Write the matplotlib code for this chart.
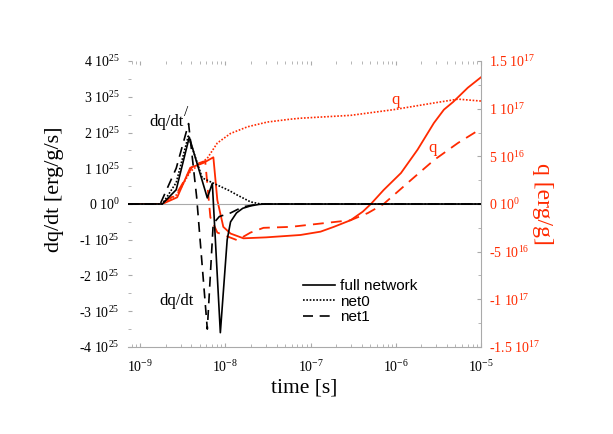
import matplotlib
matplotlib.use("Agg")
import matplotlib.pyplot as plt
from matplotlib.ticker import FixedLocator, FixedFormatter, NullFormatter

plt.rcParams['font.family'] = ['Liberation Serif', 'DejaVu Serif']
plt.rcParams['mathtext.fontset'] = 'custom'
plt.rcParams['mathtext.rm'] = 'Liberation Serif'
plt.rcParams['mathtext.it'] = 'Liberation Serif:italic'

RED = '#ff2a00'
GRID = '#aaaaaa'

# ---- data: dq/dt in units of 1e25 erg/g/s ----
t_full_dq = [7.2e-10, 1.82e-9, 2.65e-9, 3.77e-9, 6.14e-9, 7.03e-9, 8.73e-9, 1.05e-8, 1.15e-8,
             1.35e-8, 1.6e-8, 2.0e-8, 2.5e-8, 3.0e-8, 1e-5]
dq_full = [0, 0, 0.4, 1.87, 0.17, 0.58, -3.6, -1.0, -0.5, -0.25, -0.12, -0.05, -0.01, 0, 0]

t_net0_dq = [7.2e-10, 1.82e-9, 2.65e-9, 3.67e-9, 5.36e-9, 8.05e-9, 1.1e-8, 1.38e-8, 1.97e-8, 2.58e-8, 1e-5]
dq_net0 = [0, 0, 0.6, 1.9, 0.73, 0.53, 0.38, 0.25, 0.06, 0, 0]

t_net1_dq = [7.2e-10, 1.72e-9, 2.65e-9, 3.7e-9, 4.6e-9, 6.14e-9, 7.2e-9, 8.5e-9, 1.15e-8, 1.6e-8, 2.5e-8, 1e-5]
dq_net1 = [0, 0, 1.0, 2.25, 0.2, -3.5, -0.55, -0.35, -0.25, -0.08, 0, 0]

# ---- data: q in units of 1e16 erg/g ----
t_full_q = [7.2e-10, 1.82e-9, 2.72e-9, 3.87e-9, 5.5e-9, 7.23e-9, 8.05e-9, 9.46e-9, 1.15e-8, 1.63e-8,
            3e-8, 7.6e-8, 1.31e-7, 1.87e-7, 2.95e-7, 4.1e-7, 5.1e-7, 7.2e-7, 1.15e-6, 1.8e-6,
            2.8e-6, 3.67e-6, 4.7e-6, 7.0e-6, 1e-5]
q_full = [0, 0, 0.7, 3.8, 4.3, 4.9, 0.4, -2.4, -3.1, -3.6,
          -3.5, -3.25, -2.9, -2.4, -1.7, -0.8, 0, 1.47, 3.25, 5.7,
          8.5, 9.9, 10.7, 12.2, 13.3]

t_net0_q = [7.2e-10, 1.82e-9, 2.72e-9, 3.87e-9, 6.14e-9, 8.05e-9, 1.15e-8, 1.82e-8, 3.12e-8,
            5.82e-8, 7.6e-8, 2.95e-7, 9.46e-7, 2.8e-6, 5.36e-6, 1e-5]
q_net0 = [0, 0, 1.0, 3.4, 4.8, 6.4, 7.4, 8.1, 8.6, 8.9, 9.0, 9.3, 9.9, 10.6, 11.0, 10.8]

t_net1_q = [7.2e-10, 1.72e-9, 2.65e-9, 4.2e-9, 5.8e-9, 6.67e-9, 8.05e-9, 1.38e-8, 1.97e-8, 2.8e-8,
            5.82e-8, 2.95e-7, 4.7e-7, 7.2e-7, 1.5e-6, 2.8e-6, 5.36e-6, 1e-5]
q_net1 = [0, 0, 1.0, 4.1, 4.5, -1.4, -3.0, -3.8, -3.0, -2.5,
          -2.4, -1.7, -0.95, 0, 2.5, 4.6, 6.4, 7.9]

x_ticks = [1e-9, 1e-8, 1e-7, 1e-6, 1e-5]
x_labels = ['$10^{-9}$', '$10^{-8}$', '$10^{-7}$', '$10^{-6}$', '$10^{-5}$']
left_ticks = [-4, -3, -2, -1, 0, 1, 2, 3, 4]
left_labels = ['-4 $10^{25}$', '-3 $10^{25}$', '-2 $10^{25}$', '-1 $10^{25}$', '0 $10^{0}$',
               '1 $10^{25}$', '2 $10^{25}$', '3 $10^{25}$', '4 $10^{25}$']
right_ticks = [-15, -10, -5, 0, 5, 10, 15]
right_labels = ['-1.5 $10^{17}$', '-1 $10^{17}$', '-5 $10^{16}$', '0 $10^{0}$',
                '5 $10^{16}$', '1 $10^{17}$', '1.5 $10^{17}$']
legend_labels = ['full network', 'net0', 'net1']

fig = plt.figure(figsize=(6.13, 4.34), dpi=100)
ax = fig.add_axes([0.2088, 0.2005, 0.5759, 0.6589])
ax.set_xscale('log')
ax.set_xlim(7.2e-10, 1e-5)
ax.set_ylim(-4, 4)
ax.axhline(0, color=GRID, lw=0.8, zorder=1)

ax2 = ax.twinx()
ax2.set_ylim(-15, 15)
ax2.plot(t_full_q, q_full, color=RED, lw=1.3, ls='-')
ax2.plot(t_net0_q, q_net0, color=RED, lw=1.2, ls=(0, (1, 1)))
ax2.plot(t_net1_q, q_net1, color=RED, lw=1.3, ls=(0, (6, 4)))
ax2.tick_params(axis='x', which='both', bottom=False, top=False,
                labelbottom=False, labeltop=False)

l1, = ax.plot(t_full_dq, dq_full, color='black', lw=1.2, ls='-', zorder=3)
l2, = ax.plot(t_net0_dq, dq_net0, color='black', lw=1.2, ls=(0, (1, 1)), zorder=3)
l3, = ax.plot(t_net1_dq, dq_net1, color='black', lw=1.2, ls=(0, (6, 4)), zorder=3)
ax.set_zorder(ax2.get_zorder() + 1)
ax.patch.set_visible(False)

# spines
for s in ['left', 'top', 'right']:
    ax.spines[s].set_visible(False)
ax.spines['bottom'].set_color(GRID)
for s in ['left', 'top', 'bottom']:
    ax2.spines[s].set_visible(False)
ax2.spines['right'].set_color(GRID)

# ticks
ax.yaxis.set_major_locator(FixedLocator(left_ticks))
ax.yaxis.set_major_formatter(FixedFormatter(left_labels))
ax.yaxis.set_minor_locator(FixedLocator([v + 0.5 for v in left_ticks[:-1]]))
ax.xaxis.set_major_locator(FixedLocator(x_ticks))
ax.xaxis.set_major_formatter(FixedFormatter(x_labels))
minor_x = [m * d for d in [1e-10, 1e-9, 1e-8, 1e-7, 1e-6] for m in range(2, 10)]
ax.xaxis.set_minor_locator(FixedLocator([v for v in minor_x if 7.2e-10 <= v <= 1e-5]))
ax.xaxis.set_minor_formatter(NullFormatter())
ax.tick_params(axis='both', which='both', direction='in', color=GRID, top=True, labelsize=10)
ax.tick_params(axis='x', pad=9)
ax.tick_params(axis='y', pad=6)
ax.tick_params(which='major', length=3)
ax.tick_params(which='minor', length=2)

ax2.yaxis.set_major_locator(FixedLocator(right_ticks))
ax2.yaxis.set_major_formatter(FixedFormatter(right_labels))
ax2.yaxis.set_minor_locator(FixedLocator([v + 2.5 for v in right_ticks[:-1]]))
ax2.tick_params(axis='y', which='both', direction='in', color=GRID, pad=6,
                labelsize=10, labelcolor=RED)
ax2.tick_params(which='major', length=3)
ax2.tick_params(which='minor', length=2)

ax.set_xlabel('time [s]', fontsize=15.5, labelpad=2)
ax.set_ylabel('dq/dt [erg/g/s]', fontsize=16)
ax.yaxis.set_label_coords(-0.18, 0.55)
ax2.set_ylabel('q [erg/g]', fontsize=17, color=RED, rotation=270)
ax2.yaxis.set_label_coords(1.205, 0.5)

# annotations
ax.text(2.05e-9, 2.3, 'dq/dt', fontsize=12, ha='center', va='center')
ax.text(3.45e-9, 2.55, '/', fontsize=11, ha='center', va='center')
ax.text(2.65e-9, -2.7, 'dq/dt', fontsize=12, ha='center', va='center')
ax2.text(1.0e-6, 10.9, 'q', fontsize=12, color=RED, ha='center', va='center')
ax2.text(2.7e-6, 5.9, 'q', fontsize=12, color=RED, ha='center', va='center')

leg = ax.legend([l1, l2, l3], legend_labels, loc='upper left',
                bbox_to_anchor=(303 / 613, 1 - 279 / 434), bbox_transform=fig.transFigure,
                frameon=False, prop={'family': 'Liberation Sans', 'size': 11},
                handlelength=2.1, handletextpad=0.35, labelspacing=0.1,
                borderpad=0, borderaxespad=0)

fig.savefig('out.png', dpi=100)
